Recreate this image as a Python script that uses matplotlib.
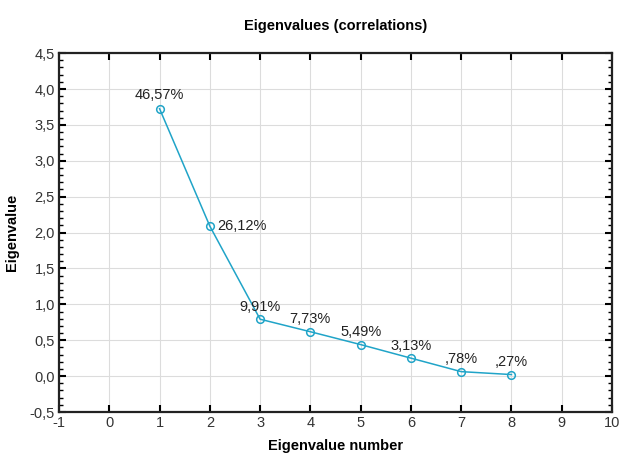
import matplotlib
matplotlib.use("Agg")
import matplotlib.pyplot as plt
from matplotlib.ticker import MultipleLocator, FuncFormatter

numbers = [1, 2, 3, 4, 5, 6, 7, 8]
eigenvalues = [3.7256, 2.0896, 0.7928, 0.6184, 0.4392, 0.2504, 0.0624, 0.0216]
labels = ["46,57%", "26,12%", "9,91%", "7,73%", "5,49%", "3,13%", ",78%", ",27%"]

plt.rcParams['font.family'] = ['Liberation Sans', 'DejaVu Sans']

fig = plt.figure(figsize=(6.22, 4.54), dpi=100)
ax = fig.add_axes([0.0949, 0.0925, 0.889, 0.7905])

color = '#20a4c8'
ax.plot(numbers, eigenvalues, color=color, lw=1.1, marker='o', ms=5.5,
        mfc='none', mec=color, mew=1.1, zorder=3)

offsets = {0: (0, 5, 'center', 'bottom'), 1: (5, 0, 'left', 'center')}
for i, (x, y, t) in enumerate(zip(numbers, eigenvalues, labels)):
    dx, dy, ha, va = offsets.get(i, (0, 4, 'center', 'bottom'))
    ax.annotate(t, (x, y), xytext=(dx, dy), textcoords='offset points',
                ha=ha, va=va, fontsize=10.5, color='#222222')

ax.set_xlim(-1, 10)
ax.set_ylim(-0.5, 4.5)
ax.xaxis.set_major_locator(MultipleLocator(1))
ax.yaxis.set_major_locator(MultipleLocator(0.5))
ax.yaxis.set_minor_locator(MultipleLocator(0.1))
ax.yaxis.set_major_formatter(FuncFormatter(lambda v, p: f"{v:.1f}".replace('.', ',')))
ax.xaxis.set_major_formatter(FuncFormatter(lambda v, p: f"{v:.0f}"))

ax.grid(True, which='major', color='#dcdcdc', lw=0.8)
ax.set_axisbelow(True)
for s in ax.spines.values():
    s.set_linewidth(1.6)
    s.set_color('#222222')
ax.tick_params(which='major', direction='in', length=5, width=1.5,
               top=True, right=True, labelsize=10.5, labelcolor='#333333', pad=3)
ax.tick_params(which='minor', direction='in', length=3, width=1,
               left=True, right=True)

ax.set_title("Eigenvalues (correlations)", fontsize=10.5, fontweight='bold', pad=17)
ax.set_xlabel("Eigenvalue number", fontsize=10.5, fontweight='bold', labelpad=6)
ax.set_ylabel("Eigenvalue", fontsize=10.5, fontweight='bold', labelpad=8)

fig.savefig("out.png", dpi=100)
